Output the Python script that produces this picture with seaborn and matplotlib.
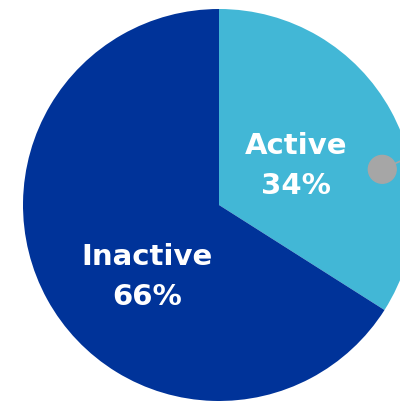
import matplotlib
matplotlib.use("Agg")
import matplotlib.pyplot as plt
import seaborn as sns
import numpy as np

labels = ["Active", "Inactive"]
shares = [34, 66]
colors = ["#42B7D6", "#003399"]

sns.set_theme(style="white")
plt.rcParams["font.family"] = ["DejaVu Sans"]

fig = plt.figure(figsize=(4.0, 4.01), dpi=100)
# pie centre at ~(219, 205) px, radius ~196 px; right side runs off the figure
ax = fig.add_axes([23 / 400, 0, 392 / 400, 392 / 401])

wedges, _ = ax.pie(shares, colors=colors, startangle=90, counterclock=False,
                   wedgeprops=dict(linewidth=0))
ax.set_xlim(-1, 1)
ax.set_ylim(-1, 1)
ax.set_aspect("equal")
ax.axis("off")

# label placement (radius, angle) inside each wedge
label_pos = {"Active": (0.44, 27), "Inactive": (0.52, 225)}
for w, lab, val in zip(wedges, labels, shares):
    r, ang = label_pos[lab]
    x, y = r * np.cos(np.radians(ang)), r * np.sin(np.radians(ang))
    ax.text(x, y, f"{lab}\n{val}%", ha="center", va="center", color="white",
            fontsize=21, fontweight="heavy", linespacing=1.55)

# grey marker dot with leader line
ax.plot([0.83, 1.1], [0.182, 0.30], color="#A6A6A6", lw=1.2, clip_on=False)
ax.add_patch(plt.Circle((0.833, 0.182), 0.071, color="#A6A6A6", zorder=5))

fig.savefig("out.png", dpi=100)
